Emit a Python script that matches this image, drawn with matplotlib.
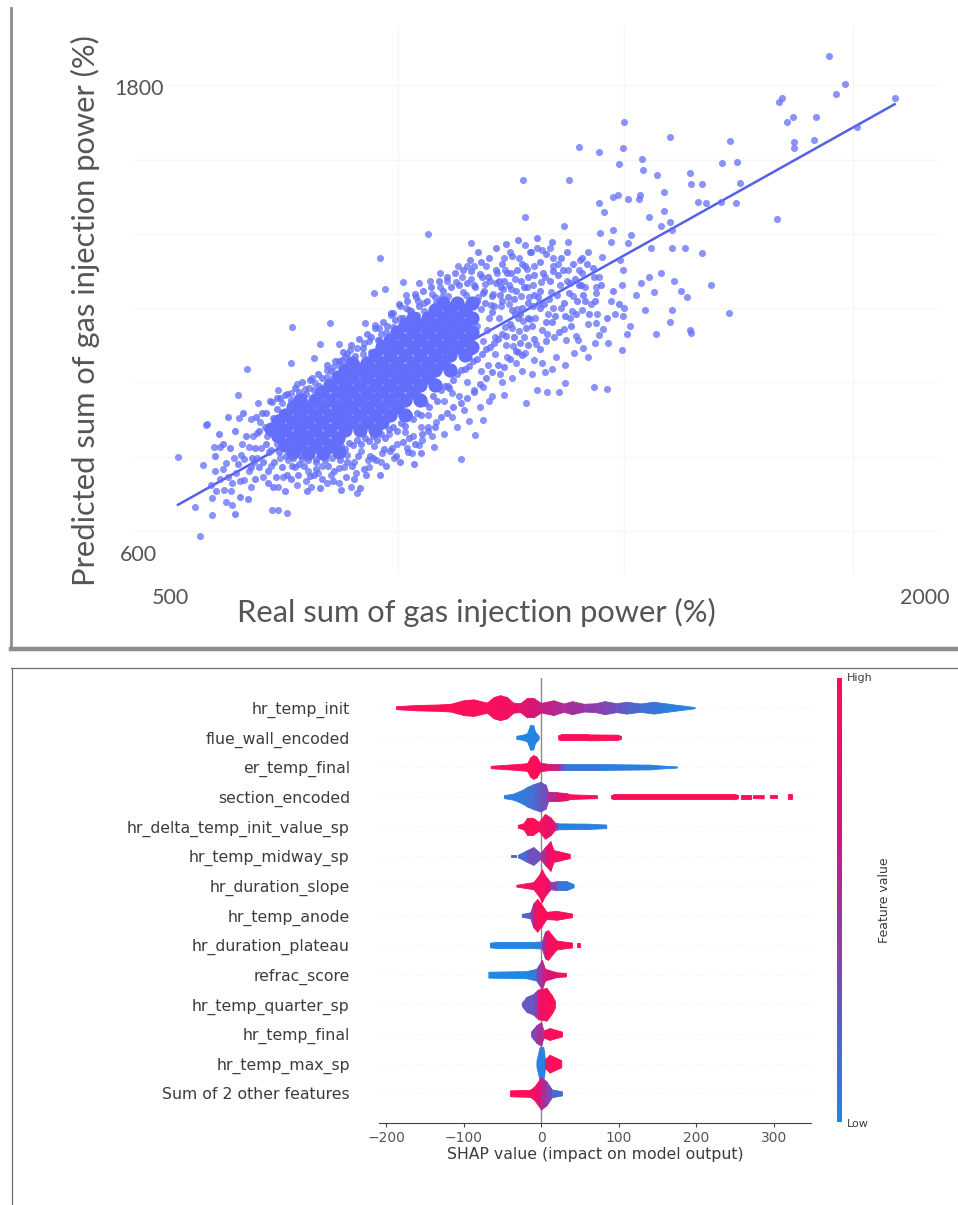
import matplotlib
matplotlib.use("Agg")
import matplotlib.pyplot as plt
from matplotlib.colors import LinearSegmentedColormap
from matplotlib.lines import Line2D
import numpy as np

W, H = 958, 1205

# ---------- top panel data ----------
fit_x = [516, 1940]
fit_y = [724, 1756]

core_points = [
 (729,955),(729,917),(729,878),(758,994),(758,955),(758,917),(758,878),
 (788,994),(788,955),(788,917),(788,878),(818,1033),(818,994),(818,955),(818,917),(818,878),
 (848,1071),(848,1033),(848,994),(848,955),(848,917),(877,1071),(877,1033),(877,994),(877,955),(877,917),
 (907,1110),(907,1071),(907,1033),(907,994),(907,955),(907,917),
 (937,1149),(937,1110),(937,1071),(937,1033),(937,994),(937,955),
 (967,1187),(967,1149),(967,1110),(967,1071),(967,1033),(967,994),(967,955),
 (997,1187),(997,1149),(997,1110),(997,1071),(997,1033),(997,994),
 (1027,1226),(1027,1187),(1027,1149),(1027,1110),(1027,1071),(1027,1033),
 (1056,1226),(1056,1187),(1056,1149),(1056,1110),(1056,1071),
 (1086,1226),(1086,1187),(1086,1149),(1086,1110),
 (744,975),(744,936),(744,897),(773,975),(773,936),(773,897),(803,1014),(803,975),(803,936),(803,897),
 (833,1052),(833,1014),(833,975),(833,936),(833,897),(862,1090),(862,1052),(862,1014),(862,975),(862,936),
 (892,1090),(892,1052),(892,1014),(892,975),(892,936),(922,1130),(922,1090),(922,1052),(922,1014),(922,975),(922,936),
 (952,1168),(952,1130),(952,1090),(952,1052),(952,1014),(952,975),(982,1206),(982,1168),(982,1130),(982,1090),(982,1052),(982,1014),
 (1012,1206),(1012,1168),(1012,1130),(1012,1090),(1012,1052),(1042,1245),(1042,1206),(1042,1168),(1042,1130),(1042,1090),
 (1071,1245),(1071,1206),(1071,1168),(1071,1130),(1101,1245),(1101,1206),(1101,1168),(1101,1130),
 (715,940),(715,900),(700,920),(745,860),(775,858),(805,858),(835,860),
]

sparse_points = [
 (1809,1881),(1842,1808),(1824,1782),(1940,1771),(1716,1771),(1710,1762),(1737,1722),(1726,1711),
 (1783,1722),(1865,1698),(1403,1711),(1494,1672),(1612,1661),(1740,1659),(1780,1664),(1740,1642),
 (1313,1645),(1352,1632),(1400,1642),(1437,1614),(1393,1602),(1439,1586),(1597,1604),(1627,1608),
 (1467,1574),(1534,1578),(1202,1561),(1292,1561),(1536,1550),(1558,1550),(1633,1552),(1482,1530),
 (1380,1518),(1391,1522),(1410,1512),(1433,1522),(1431,1512),(1352,1502),(1550,1505),(1566,1501),
 (1595,1505),(1625,1501),(1363,1477),(1482,1481),(1451,1466),(1206,1465),(1707,1459),(1494,1453),
 (1476,1442),(1283,1441),(1380,1432),(1354,1423),(1498,1432),(1012,1422),(1099,1398),(1416,1419),
 (1376,1402),(1410,1398),(1206,1393),(1230,1385),(1255,1385),(1455,1385),(1498,1385),(1524,1385),
 (1558,1372),(917,1359),
 (1342,1028),(1368,1021),(1285,1038),(1230,1020),(1249,1015),(1273,1015),(1208,985),(1079,841),
 (1107,904),(1121,942),(1024,874),(981,857),(872,754),(860,771),(836,779),(811,779),(781,771),
 (753,775),(714,771),(733,704),(714,711),(702,711),(623,724),(611,732),(584,698),(559,644),(550,719),
 (583,741),(581,775),(587,874),(599,874),(566,826),(611,831),(516,846),(572,929),(638,947),(654,1073),
 (635,1007),(674,985),(702,989),(714,1020),(740,1088),(787,1101),(799,1138),(836,1138),(678,938),
 (672,908),(657,874),(641,852),(666,835),(684,796),(660,771),(648,788),(621,760),
 (1398,1122),(1370,1140),(1321,1127),(1303,1114),(1465,1165),(1536,1167),(1409,1165),(1352,1161),
 (1246,1067),(1224,1097),(1188,1088),(1267,1105),(1121,1028),(1164,1007),(1133,990),(1085,968),
 (1060,951),(1012,925),(1000,891),(1610,1217),(1528,1260),(1575,1290),(1501,1301),(1452,1312),
 (1461,1273),(1425,1265),(1398,1290),(1346,1286),(1376,1248),(1443,1226),(1403,1230),(1497,1226),
 (1494,1196),(1346,1192),(1400,1209),(1534,1175),(905,1269),(927,1279),(963,1299),(994,1295),
 (969,1265),(1036,1320),(1072,1338),(1091,1338),(1127,1338),(1164,1359),(1194,1359),(1216,1376),
 (1261,1359),(1315,1355),(1358,1363),(1394,1355),(1400,1329),(1318,1320),(1261,1338),(1224,1338),
 (1291,1329),(1352,1312),(1346,1269),(742,1183),(818,1192),(887,1192),(939,1213),(915,1179),(957,1235),(988,1260),
]

mid_points = [
 (692,902),(705,948),(712,880),(718,845),(722,985),(735,838),(741,1012),(748,820),(752,1035),(762,842),
 (768,1022),(775,812),(782,1050),(790,842),(797,1030),(803,825),(812,1072),(822,845),(829,1058),(835,818),
 (842,1098),(851,852),(858,1122),(866,835),(871,1086),(880,862),(886,1142),(893,840),(899,1118),(906,875),
 (914,1148),(922,858),(930,1170),(936,905),(944,1182),(951,880),(958,1205),(966,912),(974,1226),(982,900),
 (990,1212),(998,925),(1005,1245),(1013,955),(1020,1268),(1028,938),(1036,1285),(1044,990),(1052,1262),
 (1060,1012),(1068,1298),(1075,1005),(1082,1272),(1090,1040),(1098,1305),(1105,1020),(1112,1260),
 (1118,1068),(1126,1292),(1132,1085),(1138,1238),(1145,1112),(1150,1320),(1156,1060),(1162,1280),
 (1168,1135),(1174,1240),(1180,1180),(1186,1305),(1192,1118),(1198,1262),(1204,1155),(1210,1332),
 (1216,1202),(1222,1290),(1228,1138),(1234,1245),(1240,1175),(1246,1312),(1252,1215),(1258,1272),
 (1264,1155),(1270,1345),(1276,1232),(1282,1178),(1288,1300),(1294,1205),(1300,1262),(1306,1160),
 (1312,1330),(1318,1225),(1324,1285),(1330,1190),(1336,1240),(1342,1312),(1348,1215),(1118,1228),
 (1130,1175),(1142,1268),(1154,1205),(1166,1182),(1178,1280),(1190,1228),(1202,1198),(1214,1258),
 (1226,1205),(1238,1298),(1250,1165),(1262,1230),(1274,1290),(1286,1148),(1298,1222),
 (1100,1120),(1110,1185),(1122,1145),(1134,1205),(1146,1155),(1158,1235),(1170,1105),(1182,1132),
 (1194,1172),(1206,1115),(1100,1235),(1088,1265),(1076,1248),(1064,1195),(1052,1030),(1040,1258),
 (1028,1245),(1016,1300),(1004,1222),(992,1248),(980,1205),(968,1232),(956,1172),(944,1218),(932,1132),
 (920,1165),(908,1188),(896,1145),(884,1112),(872,1128),(860,1095),(848,1105),(836,1085),(824,1078),
 (812,1052),(800,1015),(788,1038),(776,1025),(764,1005),(752,998),(740,975),(728,1008),(716,940),
 (704,905),(696,860),(688,925),(680,870),(672,845),(664,900),(656,812),(648,842),(640,785),(632,805),
 (624,780),(616,795),(608,762),(600,790),(592,760),(574,932),(590,812),(605,815),(628,845),(644,880),
 (660,945),(700,825),(725,795),(745,868),(770,785),(795,805),(820,800),(845,820),(870,805),(895,820),
 (920,835),(945,845),(970,870),(995,878),(1020,900),(1045,905),(1070,925),(1095,940),(1115,975),
 (1140,1005),(1160,1040),(1180,1050),(1200,1068),(1220,1060),(1240,1090),(1260,1075),(1285,1085),
 (1310,1148),(1330,1105),(1345,1140),(1360,1178),(1385,1215),(1415,1185),(1435,1295),(1475,1320),(1515,1275),
 (1165,1330),(1135,1300),(1105,1340),(1080,1310),(1050,1300),(1240,1380),(1175,1375),(1290,1400),(1330,1375),
]

dense_points = [
 (700,865),(704,930),(708,905),(712,970),(716,860),(719,1000),(722,880),(726,925),(730,850),(733,1010),
 (737,865),(741,995),(745,845),(748,1025),(752,860),(756,1015),(760,850),(763,1040),(767,865),(771,1010),
 (775,840),(779,1045),(783,860),(787,1020),(791,835),(795,1060),(799,850),(803,1050),(807,858),(811,1085),
 (815,862),(819,1068),(823,870),(827,1095),(831,858),(835,1095),(839,875),(843,1118),(847,868),(851,1112),
 (855,882),(859,1135),(863,878),(867,1108),(871,890),(875,1150),(879,880),(883,1128),(887,895),(891,1165),
 (895,888),(899,1155),(903,900),(907,1180),(911,892),(915,1148),(919,905),(923,1195),(927,895),(931,1185),
 (935,918),(939,1218),(943,925),(947,1200),(951,915),(955,1240),(959,935),(963,1205),(967,928),(971,1250),
 (975,955),(979,1222),(983,945),(987,1268),(991,960),(995,1235),(999,955),(1003,1275),(1007,985),(1011,1250),
 (1015,975),(1019,1285),(1023,1005),(1027,1258),(1031,990),(1035,1300),(1039,1020),(1043,1275),(1047,1030),(1051,1310),
 (1055,1025),(1059,1285),(1063,1045),(1067,1320),(1071,1060),(1075,1290),(1079,1070),(1083,1330),(1087,1075),(1091,1295),
 (1095,1082),(1099,1325),(1103,1095),(1107,1285),(1111,1100),(1115,1318),(1119,1112),(1123,1275),(1127,1125),(1131,1310),
 (1135,1130),(1139,1262),(1143,1140),(1147,1295),(1151,1150),(1155,1265),(1159,1165),(1163,1300),(1167,1160),(1171,1260),
 (1175,1190),(1179,1225),(1183,1155),(1187,1275),(1191,1205),(1195,1140),(1199,1230),(1203,1285),(1207,1180),(1211,1245),
 (660,822),(668,870),(676,915),(684,835),(690,960),(694,810),(698,990),(706,835),(710,795),(722,820),(732,800),(742,825),
 (754,800),(766,825),(778,798),(790,815),(802,790),(814,825),(826,812),(838,838),(850,795),(862,825),(874,850),(886,815),
 (898,850),(910,840),(926,868),(938,862),(950,850),(962,885),(974,895),(986,880),(1000,905),(1012,915),(1026,925),(1038,950),
 (1050,960),(1062,975),(1078,985),(1090,1000),(1104,1015),(1116,1035),(1128,1050),(1140,1065),(1152,1085),(1164,1080),
 (1176,1100),(1188,1120),(1200,1110),(1212,1135),(1224,1150),(1236,1125),(1248,1145),(1260,1195),(1272,1170),(1284,1210),
 (1296,1185),(1308,1250),(1320,1265),(1332,1215),(1344,1250),(1356,1290),(1368,1205),(1380,1275),(1392,1240),(1220,1185),
 (1232,1260),(1244,1240),(1256,1300),(1268,1265),(1280,1330),(1292,1270),(1304,1305),(1316,1290),(1328,1345),(1340,1335),
 (1200,1345),(1212,1310),(1224,1315),(1236,1350),(1190,1330),(1178,1320),(1160,1345),(1148,1330),(1118,1350),(1096,1355),
 (1105,1290),(1112,1375),(1120,1310),(1126,1245),(1133,1360),(1140,1220),(1147,1385),(1153,1300),(1160,1250),(1167,1395),
 (1173,1290),(1180,1365),(1186,1215),(1192,1405),(1198,1300),(1205,1340),(1211,1205),(1217,1375),(1223,1265),(1229,1410),
 (1235,1230),(1241,1320),(1247,1370),(1253,1255),(1259,1400),(1265,1210),(1271,1315),(1277,1360),(1283,1245),(1289,1375),
 (1295,1295),(1301,1345),(1307,1215),(1313,1290),(1319,1360),(1325,1250),(1110,1250),(1122,1270),(1144,1235),(1157,1285),
 (1170,1320),(1183,1255),(1196,1215),(1209,1285),(1222,1235),(1235,1275),(1248,1195),(1261,1325),
 (740,790),(756,830),(772,760),(786,800),(798,768),(808,840),(824,785),(840,762),(852,835),(866,790),
 (878,768),(890,800),(904,845),(918,800),(930,825),(942,870),(958,835),(972,860),(984,830),(998,858),
 (590,850),(598,905),(606,880),(615,950),(620,870),(630,915),(636,830),(645,960),(652,900),(662,845),
 (670,950),(677,820),(683,960),(690,880),(695,780),(705,770),(712,1000),(720,890),(728,760),(668,790),
 (655,740),(640,745),(630,700),
]

# ---------- bottom panel data ----------
feature_names = ["hr_temp_init", "flue_wall_encoded", "er_temp_final", "section_encoded",
                 "hr_delta_temp_init_value_sp", "hr_temp_midway_sp", "hr_duration_slope",
                 "hr_temp_anode", "hr_duration_plateau", "refrac_score", "hr_temp_quarter_sp",
                 "hr_temp_final", "hr_temp_max_sp", "Sum of 2 other features"]
shap_ticks = [-200, -100, 0, 100, 200, 300]

# each swarm: (shap value, half height of the swarm in rows, feature value 0-1)
row_00 = [[(-187,.05,1.),(-160,.09,1.),(-130,.11,1.),(-117,.13,.98),(-100,.25,.97),(-87,.28,.97),(-70,.17,.95),(-61,.36,.93),(-53,.42,.9),
           (-44,.36,.9),(-36,.17,.85),(-27,.15,.8),(-18,.33,.75),(-10,.33,.7),(-5,.24,.65),(0,.16,.6),(16,.25,.55),(29,.14,.5),
           (40,.22,.47),(55,.13,.42),(70,.15,.38),(82,.22,.33),(97,.15,.25),(110,.2,.18),(128,.14,.12),(145,.2,.08),(162,.14,.05),(183,.07,.03),(198,.02,0.)]]
row_01 = [[(-32,.05,.02),(-23,.09,.02),(-18,.14,.02),(-14,.42,.02),(-10,.4,.02),(-8,.2,.02),(-3,.05,.02)],
          [(22,.07,1.),(26,.1,1.),(60,.1,1.),(98,.09,1.),(103,.05,1.)]]
row_02 = [[(-65,.04,1.),(-31,.1,1.),(-18,.13,1.),(-14,.33,1.),(-10,.4,1.),(-6,.35,.95),(-1,.14,.8),(12,.1,.6),(24,.1,.35),(29,.1,.1),
           (76,.1,.05),(140,.08,.04),(155,.05,.03),(175,.02,.02)]]
row_03 = [[(-48,.05,.05),(-36,.1,.05),(-25,.22,.08),(-18,.33,.12),(-10,.42,.2),(-1,.5,.3),(6,.4,.35),(9,.15,.55),(20,.15,.8),(33,.12,.9),
           (37,.08,.97),(72,.05,1.)],
          [(90,.05,1.),(94,.09,1.),(170,.09,1.),(250,.09,1.),(254,.05,1.)],
          [(258,.07,1.),(271,.07,1.)],[(273,.05,1.),(287,.06,1.)],[(295,.06,1.),(304,.06,1.)],[(318,.08,1.),(323,.08,1.)]]
row_04 = [[(-30,.05,.9),(-23,.1,.95),(-18,.28,1.),(-10,.28,1.),(-3,.15,.9),(5,.42,.85),(12,.3,.8),(18,.12,.4),(22,.1,.05),(60,.09,.03),(84,.06,.03)]]
row_05 = [[(-39,.05,.2),(-33,.05,.2)],
          [(-30,.04,.15),(-18,.2,.3),(-10,.3,.3),(-1,.1,.5),(5,.3,.8),(12,.5,.9),(16,.2,.95),(37,.07,1.)]]
row_06 = [[(-32,.03,.9),(-10,.12,.9),(-3,.35,.95),(1,.55,.95),(5,.35,.8),(12,.12,.4),(20,.15,.1),(33,.15,.05),(42,.05,.05)]]
row_07 = [[(-25,.05,.2),(-14,.1,.4),(-10,.4,.8),(-5,.55,1.),(1,.35,1.),(7,.12,.95),(20,.15,1.),(40,.06,1.)]]
row_08 = [[(-66,.08,.02),(-58,.1,.02),(-14,.1,.05),(1,.12,.5),(5,.45,.85),(9,.5,.9),(15,.3,.95),(20,.15,1.),(40,.08,1.)],
          [(46,.07,1.),(50,.07,1.)]]
row_09 = [[(-68,.1,0.),(-19,.12,.05),(-6,.2,.4),(1,.5,.6),(5,.2,.75),(20,.08,.9),(32,.06,1.)]]
row_10 = [[(-25,.05,.25),(-19,.25,.25),(-10,.35,.35),(-4,.5,.9),(7,.55,1.),(14,.3,1.),(18,.1,1.)]]
row_11 = [[(-13,.08,.35),(-6,.3,.5),(0,.4,.5),(3,.12,.9),(11,.2,1.),(27,.08,1.)]]
row_12 = [[(-6,.1,.05),(-2,.55,.05),(3,.55,.05),(5,.15,.9),(11,.3,1.),(26,.12,1.)]]
row_13 = [[(-40,.1,1.),(-14,.12,.95),(-8,.25,.8),(0,.55,.5),(7,.4,.35),(14,.13,.15),(27,.07,.05)]]
swarms = [row_00, row_01, row_02, row_03, row_04, row_05, row_06, row_07,
          row_08, row_09, row_10, row_11, row_12, row_13]

# ---------- figure ----------
plt.rcParams["font.family"] = ["DejaVu Sans"]
fig = plt.figure(figsize=(W / 100, H / 100), dpi=100, facecolor="white")


def box(l, t, r, b):
    return [l / W, 1 - b / H, (r - l) / W, (b - t) / H]


# panel frames
for xs, ys, c, lw in [([11, 11], [8, 649], "#8c8c8c", 2.0),
                      ([11, 958], [649, 649], "#8c8c8c", 3.2),
                      ([11, 958], [668, 668], "#6e6e6e", 0.9),
                      ([12, 12], [668, 1205], "#6e6e6e", 0.9)]:
    fig.add_artist(Line2D([x / W for x in xs], [1 - y / H for y in ys], color=c, lw=lw))

# ---------- top scatter ----------
GRID = "#f6f6f9"
ax = fig.add_axes(box(133, 25, 938, 575))
ax.set_xlim(426.5, 2026)
ax.set_ylim(543, 1960)
for s in ax.spines.values():
    s.set_visible(False)
ax.set_xticks([953, 1402, 1857, 500], minor=True)
ax.set_yticks([1612, 1421, 1230, 1040, 847, 657], minor=True)
ax.grid(which="minor", color=GRID, lw=1.0)
ax.hlines(1805, 500, 2026, color=GRID, lw=1.0, zorder=0.5)
ax.set_axisbelow(True)
ax.set_xticks([500, 2000], ["500", "2000"], family="Lato", fontsize=15.5, color="#555555")
ax.set_yticks([600, 1800], ["600", "1800"], family="Lato", fontsize=15.5, color="#555555")
ax.tick_params(which="both", length=0)
ax.tick_params(axis="x", pad=9)
ax.tick_params(axis="y", pad=-4)
for lab in ax.get_yticklabels():
    lab.set_ha("center")

COL = "#636EFA"
ax.plot(fit_x, fit_y, color="#5560e8", lw=1.8, zorder=1.5)
ax.scatter([p[0] for p in core_points], [p[1] for p in core_points], s=105, color=COL, lw=0, zorder=2)
ax.scatter([p[0] for p in dense_points], [p[1] for p in dense_points], s=26, color=COL, alpha=.8, lw=0, zorder=3)
ax.scatter([p[0] for p in mid_points], [p[1] for p in mid_points], s=26, color=COL, alpha=.75, lw=0, zorder=3)
ax.scatter([p[0] for p in sparse_points], [p[1] for p in sparse_points], s=26, color=COL, alpha=.75, lw=0, zorder=3)

fig.text(476 / W, 1 - 612 / H, "Real sum of gas injection power (%)", family="Lato",
         fontsize=22.2, color="#555555", ha="center", va="center")
fig.text(85 / W, 1 - 311 / H, "Predicted sum of gas injection power (%)", family="Lato",
         fontsize=22.2, color="#555555", ha="center", va="center", rotation=90)

# ---------- bottom SHAP swarm ----------
cmap = LinearSegmentedColormap.from_list("shap", ["#1E88E5", "#7A49B8", "#D0177A", "#FF0D57"])
ax2 = fig.add_axes(box(379, 678, 811, 1123))
ax2.set_xlim(-209, 348)
ax2.set_ylim(-1, 14)
for name in ["top", "left", "right"]:
    ax2.spines[name].set_visible(False)
ax2.spines["bottom"].set_color("#444444")
ax2.axvline(0, color="#8a8a8a", lw=1.0, zorder=1)

n_rows = len(feature_names)
for i, segments in enumerate(swarms):
    y0 = n_rows - 1 - i
    ax2.axhline(y0, color="#f2f2f2", lw=0.8, ls=(0, (1, 2)), zorder=0)
    for seg in segments:
        for (x1, h1, c1), (x2, h2, _c2) in zip(seg[:-1], seg[1:]):
            col = cmap(float(c1))
            ax2.fill_between([x1, x2], [y0 - h1, y0 - h2], [y0 + h1, y0 + h2],
                             color=col, lw=0.6, zorder=2)

ax2.set_yticks([n_rows - 1 - i for i in range(n_rows)], feature_names, fontsize=11.3, color="#3c3c3c")
ax2.set_xticks(shap_ticks)
ax2.tick_params(axis="y", length=0, pad=21)
ax2.tick_params(axis="x", labelsize=10, labelcolor="#555555", color="#444444", length=3, pad=3)
ax2.set_xlabel("SHAP value (impact on model output)", fontsize=11.3, color="#3c3c3c", labelpad=1)

# colour bar
cax = fig.add_axes(box(836.5, 678, 841.5, 1122))
cax.imshow(np.linspace(1, 0, 256).reshape(-1, 1), cmap=cmap, aspect="auto")
cax.axis("off")
fig.text(847 / W, 1 - 678 / H, "High", fontsize=8, color="#3c3c3c", va="center")
fig.text(847 / W, 1 - 1124 / H, "Low", fontsize=8, color="#3c3c3c", va="center")
fig.text(884 / W, 1 - 900 / H, "Feature value", fontsize=9, color="#3c3c3c", rotation=90, ha="center", va="center")

fig.savefig("out.png", dpi=100)
